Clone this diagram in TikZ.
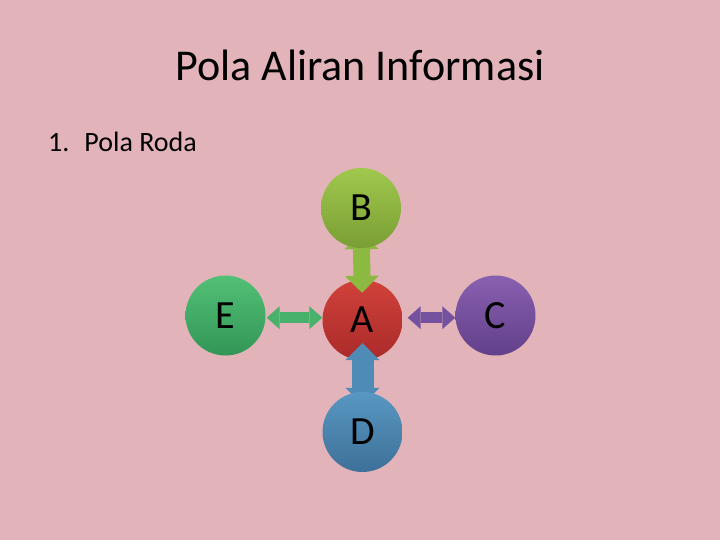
\documentclass[tikz,border=0pt]{standalone}
\usepackage{fontspec}
\setmainfont{Carlito}
\usetikzlibrary{arrows.meta}

\definecolor{rodabg}{RGB}{226,179,184}
\definecolor{Atop}{RGB}{208,66,58}\definecolor{Abot}{RGB}{170,42,42}
\definecolor{Btop}{RGB}{160,200,78}\definecolor{Bbot}{RGB}{122,158,52}
\definecolor{Ctop}{RGB}{136,96,176}\definecolor{Cbot}{RGB}{98,64,138}
\definecolor{Dtop}{RGB}{88,152,194}\definecolor{Dbot}{RGB}{62,112,152}
\definecolor{Etop}{RGB}{82,192,118}\definecolor{Ebot}{RGB}{50,150,86}
\definecolor{Barr}{RGB}{140,186,64}
\definecolor{Carr}{RGB}{116,82,160}
\definecolor{Darr}{RGB}{78,140,182}
\definecolor{Earr}{RGB}{72,178,108}

\pgfdeclarelayer{back}\pgfdeclarelayer{mid}
\pgfsetlayers{back,mid,main}

\tikzset{rodav/.style={circle,inner sep=0pt,minimum size=80pt,top color=#1top,bottom color=#1bot,
           font=\fontsize{40}{40}\selectfont},
         rodathick/.style={line width=17pt,{Triangle[width=34pt,length=17pt,line width=0pt]}-{Triangle[width=34pt,length=17pt,line width=0pt]}},
         rodathin/.style={line width=11pt,{Triangle[width=23pt,length=13pt,line width=0pt]}-{Triangle[width=23pt,length=13pt,line width=0pt]}}}

\begin{document}
\begin{tikzpicture}[x=1pt,y=-1pt]
    \useasboundingbox (0,0) rectangle (720,540);
    \node[anchor=base,font=\fontsize{44}{44}\selectfont] (title) at (360,81) {Pola Aliran Informasi};
    \node[anchor=base west,font=\fontsize{28}{28}\selectfont,inner sep=0pt] (item) at (48,152) {1.\hspace{15pt}Pola Roda};
    \begin{pgfonlayer}{back}
      \fill[rodabg] (0,0) rectangle (720,540);
      \node[rodav=A] (A) at (362.5,320) {A};
    \end{pgfonlayer}
    \foreach \n/\x/\y in {B/361/208,C/495.5/315.5,D/362.5/432,E/225.5/315.5}
      {\node[rodav=\n] (\n) at (\x,\y) {\n};}
    \begin{pgfonlayer}{mid}
      \draw[rodathick,Barr,shorten <=-16pt,shorten >=-13pt] (B) -- (A);
      \draw[rodathick,Darr,line width=22pt,shorten <=-17pt,shorten >=-13pt] (A) -- (D);
      \draw[rodathin,Earr,shorten <=1pt] ([yshift=-2.2pt]E.east) -- ([yshift=2.3pt]A.west);
      \draw[rodathin,Carr,line width=10.5pt,shorten <=5pt] ([yshift=2.3pt]A.east) -- ([yshift=-2.2pt]C.west);
    \end{pgfonlayer}
  \end{tikzpicture}
\end{document}
